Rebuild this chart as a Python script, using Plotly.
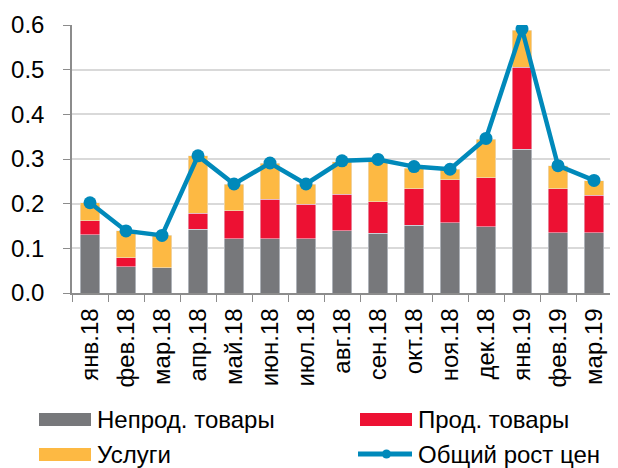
import plotly.graph_objects as go

months = ["янв.18", "фев.18", "мар.18", "апр.18", "май.18", "июн.18", "июл.18", "авг.18",
          "сен.18", "окт.18", "ноя.18", "дек.18", "янв.19", "фев.19", "мар.19"]
nonfood = [0.130, 0.059, 0.057, 0.143, 0.122, 0.121, 0.121, 0.139, 0.134, 0.152, 0.157, 0.148, 0.322, 0.135, 0.135]
food = [0.032, 0.020, 0.000, 0.035, 0.062, 0.089, 0.078, 0.082, 0.070, 0.081, 0.096, 0.110, 0.183, 0.098, 0.084]
services = [0.040, 0.060, 0.072, 0.129, 0.060, 0.080, 0.045, 0.073, 0.090, 0.046, 0.024, 0.086, 0.083, 0.052, 0.032]
total = [0.202, 0.139, 0.129, 0.307, 0.244, 0.291, 0.244, 0.296, 0.299, 0.283, 0.277, 0.346, 0.591, 0.285, 0.252]

series_names = ["Непрод. товары", "Прод. товары", "Услуги", "Общий рост цен"]
colors = ["#77787B", "#ED1133", "#FDB943", "#0089BA"]

FONT = "Liberation Sans, Arial, sans-serif"
# page body has an 8px margin, so the figure is shrunk/shifted to land on the window
OFF = 8
W, H = 618 - OFF, 468 - OFF
ML, MR, MT, MB = 72 - OFF, 6, 25 - OFF, 175

fig = go.Figure()
for vals, name, col in zip([nonfood, food, services], series_names[:3], colors[:3]):
    fig.add_trace(go.Bar(x=months, y=vals, name=name, marker_color=col, showlegend=False))
fig.add_trace(go.Scatter(x=months, y=total, name=series_names[3], mode="lines+markers",
                         line=dict(color=colors[3], width=4.5), marker=dict(size=13, color=colors[3]),
                         showlegend=False))

# manual legend (wide swatches as in reference); positions in window pixels
pw, ph = W - ML - MR, H - MT - MB
def px(x):
    return (x - OFF - ML) / pw
def py(y):
    return (H - MB - (y - OFF)) / ph

legend_pos = [(39, 419), (360, 419), (39, 454), (360, 454)]
for i, (name, col) in enumerate(zip(series_names, colors)):
    x0, yc = legend_pos[i]
    if i < 3:
        fig.add_shape(type="rect", xref="paper", yref="paper", x0=px(x0), x1=px(x0 + 52),
                      y0=py(yc + 7), y1=py(yc - 6), fillcolor=col, line_width=0, layer="above")
    else:
        fig.add_shape(type="line", xref="paper", yref="paper", x0=px(x0 - 2), x1=px(x0 + 52),
                      y0=py(yc), y1=py(yc), line=dict(color=col, width=5))
        fig.add_shape(type="circle", xref="paper", yref="paper", x0=px(x0 + 22), x1=px(x0 + 31),
                      y0=py(yc + 4.5), y1=py(yc - 4.5), fillcolor=col, line_width=0)
    fig.add_annotation(text=name, xref="paper", yref="paper", x=px(x0 + 56), y=py(yc),
                       xanchor="left", yanchor="middle", showarrow=False,
                       font=dict(size=24, color="black", family=FONT))

fig.update_layout(
    width=W, height=H,
    barmode="stack", bargap=0.47,
    paper_bgcolor="white", plot_bgcolor="white",
    margin=dict(l=ML, r=MR, t=MT, b=MB, autoexpand=False),
    font=dict(family=FONT, size=24, color="black"),
    showlegend=False,
    xaxis=dict(range=[-0.5, len(months) - 0.5], tickangle=-90, showline=True,
               linecolor="#8C8C8C", linewidth=1.5,
               ticks="outside", ticklen=7, tickcolor="#8C8C8C", tickson="boundaries",
               showgrid=False, tickfont=dict(size=24), automargin=False, ticklabelstandoff=4),
    yaxis=dict(range=[0, 0.6], dtick=0.1, tickformat=".1f", showline=True, linecolor="#8C8C8C",
               linewidth=1.5, gridcolor="#D9D9D9", gridwidth=1.5, zeroline=False,
               ticks="outside", ticklen=7, tickcolor="#8C8C8C", ticklabelstandoff=14,
               tickfont=dict(size=24), automargin=False),
)

fig.write_html("out.html")
